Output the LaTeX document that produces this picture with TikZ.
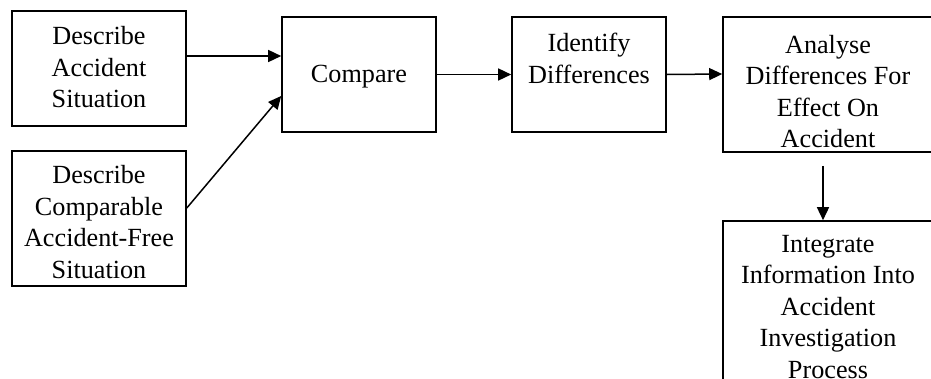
\documentclass[tikz,border=0pt]{standalone}
\usepackage{fontspec}
\setmainfont{Liberation Serif}
\usetikzlibrary{arrows.meta}
\begin{document}
\begin{tikzpicture}[x=1pt,y=-1pt,
  box/.style={draw, line width=1.6pt, inner sep=0pt},
  txt/.style={align=center, inner sep=0pt, anchor=north,
    font=\fontsize{26.2}{31.5}\selectfont},
  arr/.style={line width=1.5pt, -{Triangle[length=13pt,width=12pt]}}]
\useasboundingbox (0,0) rectangle (931,378);
\clip (0,0) rectangle (931,378);
% process boxes
\node[box, minimum width=174pt, minimum height=115pt] (b1) at (99,68.5) {};
\node[box, minimum width=174pt, minimum height=135pt] (b2) at (99,218.5) {};
\node[box, minimum width=154pt, minimum height=115pt] (cmp) at (359,74.5) {};
\node[box, minimum width=154pt, minimum height=115pt] (idf) at (589,74.5) {};
\node[box, minimum width=224pt, minimum height=135pt] (ana) at (835,84.5) {};
\node[box, minimum width=224pt, minimum height=190pt] (int) at (835,316) {};
% box texts
\node[txt] (t1) at ([yshift=-16pt]b1.north) {Describe\\Accident\\Situation};
\node[txt] (t2) at ([yshift=-15pt]b2.north) {Describe\\Comparable\\Accident-Free\\Situation};
\node[txt, anchor=center] (t3) at ([yshift=-2pt]cmp.center) {Compare};
\node[txt] (t4) at ([yshift=-17pt]idf.north) {Identify\\Differences};
\node[txt] (t5) at ([xshift=-7pt,yshift=-18.5pt]ana.north) {Analyse\\Differences For\\Effect On\\Accident};
\node[txt] (t6) at ([xshift=-7pt,yshift=-14.5pt]int.north) {Integrate\\Information Into\\Accident\\Investigation\\Process};
% connectors
\draw[arr] ([yshift=12.5pt]b1.east) -- ([yshift=18.5pt]cmp.west);
\draw[arr] ([yshift=10.5pt]b2.east) -- ([yshift=-21.5pt]cmp.west);
\draw[arr] (cmp.east) -- (idf.west);
\draw[arr] (idf.east) -- ([yshift=10.5pt]ana.west);
\draw[arr] ([xshift=-12pt,yshift=-13pt]ana.south) -- ([xshift=-12pt]int.north);
\end{tikzpicture}
\end{document}
